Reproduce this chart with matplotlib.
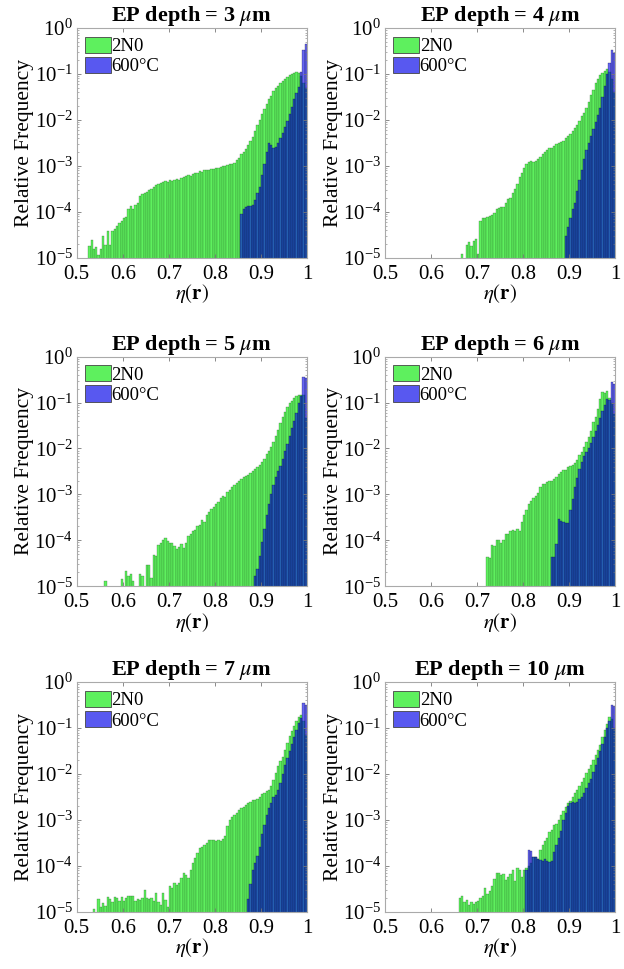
import numpy as np
import matplotlib
matplotlib.use("Agg")
import matplotlib.pyplot as plt
from matplotlib.patches import Patch
from matplotlib.ticker import LogLocator, NullFormatter

plt.rcParams['font.family'] = ['Liberation Serif', 'DejaVu Serif']
plt.rcParams['mathtext.fontset'] = 'stix'

# bin width of the histograms
bw = 0.005

depths = [3, 4, 5, 6, 7, 10]

# log10 of relative frequency, one value per bin, starting at the given eta
g3_start = 0.525
g3 = [-4.78, -4.64, -4.83, -4.8, -4.98, -4.85, -4.54, -4.75, -4.43, -4.75,
      -4.43, -4.38, -4.32, -4.25, -4.2, -4.15, -4.12, -3.95, -3.88, -3.95,
      -3.85, -3.8, -3.65, -3.62, -3.6, -3.56, -3.52, -3.5, -3.46, -3.42,
      -3.4, -3.38, -3.35, -3.32, -3.36, -3.3, -3.32, -3.3, -3.28, -3.3,
      -3.26, -3.25, -3.22, -3.2, -3.22, -3.18, -3.15, -3.16, -3.12, -3.13,
      -3.1, -3.1, -3.08, -3.06, -3.07, -3.05, -3.04, -3.03, -3.0, -3.0,
      -2.98, -2.97, -2.95, -2.93, -2.88, -2.82, -2.75, -2.7, -2.63, -2.55,
      -2.46, -2.38, -2.25, -2.12, -2.0, -1.88, -1.77, -1.66, -1.55, -1.47,
      -1.38, -1.3, -1.25, -1.2, -1.15, -1.1, -1.06, -1.03, -1.0, -0.97,
      -0.96, -0.98, -1.05, -1.2, -1.3]
b3_start = 0.855
b3 = [-4.05, -3.95, -3.9, -3.88, -3.87, -3.85, -3.75, -3.6, -3.45, -3.2,
      -2.95, -2.7, -2.5, -2.55, -2.6, -2.58, -2.5, -2.4, -2.28, -2.15,
      -2.02, -1.88, -1.72, -1.55, -1.42, -1.28, -0.96, -0.47, -0.35]

g4_start = 0.665
g4 = [-4.95, np.nan, -4.75, -4.68, -4.78, -4.65, -4.6, -4.95, -4.2, -4.15,
      -4.13, -4.12, -4.1, -4.08, -4.02, -3.95, -3.92, -3.9, -3.9, -3.82,
      -3.72, -3.7, -3.6, -3.5, -3.4, -3.25, -3.15, -3.05, -2.95, -2.92,
      -2.9, -2.92, -2.9, -2.85, -2.8, -2.75, -2.7, -2.65, -2.62, -2.6,
      -2.57, -2.53, -2.5, -2.48, -2.45, -2.4, -2.35, -2.3, -2.25, -2.18,
      -2.1, -2.02, -1.92, -1.85, -1.75, -1.6, -1.45, -1.35, -1.2, -1.1,
      -1.02, -0.97, -0.93, -0.9, -0.95, -1.1, -1.4]
b4_start = 0.89
b4 = [-4.55, -4.35, -4.15, -3.95, -3.8, -3.55, -3.3, -3.1, -2.85, -2.65,
      -2.5, -2.35, -2.2, -2.05, -1.9, -1.75, -1.5, -1.25, -1.0, -0.75,
      -0.48, -0.55]

g5_start = 0.56
g5 = [-4.93, np.nan, np.nan, np.nan, np.nan, np.nan, np.nan, -4.87, np.nan, -4.7,
      -4.8, -4.75, -4.93, np.nan, np.nan, -4.75, -4.8, np.nan, -4.55, -4.55,
      -4.85, -4.32, -4.35, -4.11, -4.07, -4.0, -3.96, -4.03, -4.07, -4.07,
      -4.14, -4.2, -4.16, -4.08, -4.18, -4.07, -3.92, -3.87, -3.79, -3.78,
      -3.69, -3.67, -3.56, -3.61, -3.45, -3.38, -3.33, -3.28, -3.2, -3.16,
      -3.09, -3.04, -3.05, -2.94, -2.91, -2.85, -2.8, -2.75, -2.7, -2.67,
      -2.63, -2.6, -2.57, -2.53, -2.5, -2.45, -2.4, -2.35, -2.3, -2.22,
      -2.12, -2.05, -1.97, -1.85, -1.72, -1.6, -1.45, -1.32, -1.2, -1.1,
      -1.02, -0.96, -0.9, -0.86, -0.84, -0.83, -0.84, -1.34]
b5_start = 0.885
b5 = [-4.8, -4.65, -4.35, -4.05, -3.75, -3.45, -3.22, -3.0, -2.8, -2.62,
      -2.5, -2.38, -2.22, -2.05, -1.9, -1.72, -1.55, -1.4, -1.22, -1.0,
      -0.85, -0.45, -0.47]

g6_start = 0.72
g6 = [-4.37, -4.4, -4.11, -4.14, -4.0, -4.0, -4.07, -4.0, -3.86, -3.87,
      -3.79, -3.77, -3.79, -3.75, -3.79, -3.6, -3.46, -3.35, -3.21, -3.15,
      -3.07, -3.03, -2.96, -2.85, -2.78, -2.78, -2.72, -2.71, -2.71, -2.67,
      -2.63, -2.56, -2.51, -2.48, -2.46, -2.41, -2.39, -2.35, -2.32, -2.25,
      -2.14, -2.07, -1.96, -1.86, -1.75, -1.61, -1.43, -1.32, -1.14, -0.92,
      -0.78, -0.8, -0.75, -0.9, -1.0, -1.25]
b6_start = 0.86
b6 = [-4.37, -4.38, -4.08, -3.54, -3.58, -3.6, -3.62, -3.63, -3.35, -3.1,
      -2.85, -2.65, -2.45, -2.3, -2.17, -2.08, -1.98, -1.88, -1.75, -1.62,
      -1.48, -1.33, -1.18, -1.05, -0.92, -0.95, -0.55, -0.6]

g7_start = 0.535
g7 = [-4.98, np.nan, -4.75, -4.93, -4.84, -4.9, -4.7, -4.75, -4.82, -4.69,
      -4.72, -4.78, -4.7, -4.78, -4.73, -4.67, -4.67, -4.67, -4.78, -4.75,
      -4.76, -4.73, -4.54, -4.73, -4.75, -4.73, -4.78, -4.61, -4.82, -4.89,
      -4.61, -4.76, -4.93, -4.45, -4.49, -4.38, -4.42, -4.38, -4.27, -4.16,
      -4.2, -4.27, -4.09, -3.94, -3.84, -3.73, -3.62, -3.58, -3.54, -3.51,
      -3.44, -3.44, -3.44, -3.45, -3.44, -3.45, -3.42, -3.36, -3.14, -3.0,
      -2.93, -2.89, -2.85, -2.78, -2.74, -2.71, -2.67, -2.62, -2.6, -2.56,
      -2.56, -2.55, -2.49, -2.43, -2.42, -2.38, -2.34, -2.27, -2.12, -1.98,
      -1.83, -1.72, -1.62, -1.47, -1.32, -1.18, -1.07, -0.95, -0.85, -0.76,
      -0.71, -0.85, -1.15]
b7_start = 0.87
b7 = [-4.75, -4.4, -4.1, -3.95, -3.78, -3.6, -3.3, -3.1, -2.9, -2.75,
      -2.62, -2.5, -2.45, -2.35, -2.2, -2.0, -1.8, -1.65, -1.5, -1.35,
      -1.2, -1.05, -0.88, -0.78, -0.45, -0.5]

g10_start = 0.66
g10 = [-4.71, -4.67, -4.82, -4.76, -4.89, -4.82, -4.87, -4.82, -4.78, -4.71,
       -4.67, -4.49, -4.64, -4.56, -4.45, -4.29, -4.16, -4.16, -4.2, -4.18,
       -4.31, -4.24, -4.18, -4.09, -4.34, -4.05, -4.09, -4.24, -4.1, -4.05,
       -4.0, -3.95, -3.8, -3.8, -3.85, -3.65, -3.55, -3.45, -3.4, -3.26,
       -3.22, -3.12, -3.08, -3.0, -2.9, -2.8, -2.72, -2.64, -2.58, -2.5,
       -2.42, -2.34, -2.25, -2.18, -2.08, -1.98, -1.9, -1.8, -1.69, -1.58,
       -1.47, -1.36, -1.2, -1.05, -0.9, -0.75, -0.8, -1.0]
b10_start = 0.805
b10 = [-4.1, -3.65, -3.68, -3.8, -3.8, -3.85, -3.88, -3.9, -3.85, -3.9,
       -3.92, -3.9, -3.7, -3.55, -3.4, -3.25, -3.0, -2.85, -2.7, -2.62,
       -2.6, -2.62, -2.6, -2.55, -2.5, -2.42, -2.3, -2.2, -2.1, -1.95,
       -1.8, -1.65, -1.5, -1.35, -1.2, -1.0, -0.85, -0.49, -0.52]

green = [(g3_start, g3), (g4_start, g4), (g5_start, g5),
         (g6_start, g6), (g7_start, g7), (g10_start, g10)]
blue = [(b3_start, b3), (b4_start, b4), (b5_start, b5),
        (b6_start, b6), (b7_start, b7), (b10_start, b10)]

xticks = [0.5, 0.6, 0.7, 0.8, 0.9, 1.0]
xticklabels = ['0.5', '0.6', '0.7', '0.8', '0.9', '1']

col_green = (94/255, 240/255, 94/255)
col_blue = (0, 0, 230/255)

fig = plt.figure(figsize=(6.24, 9.69), dpi=100)

lefts = [0.123, 0.617]
bottoms = [0.734, 0.395, 0.059]
w, h = 0.369, 0.237

for k in range(6):
    r, c = k // 2, k % 2
    ax = fig.add_axes([lefts[c], bottoms[r], w, h])
    ax.set_yscale('log')

    gs, gv = green[k]
    gx = gs + bw * np.arange(len(gv))
    ax.bar(gx, 10 ** np.array(gv), width=bw, align='edge', bottom=1e-6,
           color=col_green, edgecolor=(0.1, 0.3, 0.1, 0.6), linewidth=0.3,
           label='2N0')
    bs, bv = blue[k]
    bx = bs + bw * np.arange(len(bv))
    ax.bar(bx, 10 ** np.array(bv), width=bw, align='edge', bottom=1e-6,
           color=col_blue, alpha=0.6, edgecolor=(0, 0, 0.2), linewidth=0.3,
           label='600°C')

    ax.set_xlim(0.5, 1.0)
    ax.set_ylim(1e-5, 1)
    ax.set_xticks(xticks)
    ax.set_xticklabels(xticklabels)
    ax.yaxis.set_major_locator(LogLocator(base=10, numticks=10))
    ax.yaxis.set_minor_locator(LogLocator(base=10, subs=np.arange(2, 10), numticks=10))
    ax.yaxis.set_minor_formatter(NullFormatter())
    ax.tick_params(which='both', direction='in', top=True, right=True,
                   labelsize=15, color='#777777')
    ax.tick_params(which='major', length=3, width=0.6)
    ax.tick_params(axis='x', which='major', pad=5)
    ax.tick_params(axis='y', which='major', pad=3)
    ax.tick_params(which='minor', length=1.6, width=0.4)
    for s in ax.spines.values():
        s.set_color('#aaaaaa')
        s.set_linewidth(0.8)

    ax.set_title('EP depth = %d $\\mu$m' % depths[k], fontsize=16,
                 fontweight='bold', pad=3)
    ax.set_ylabel('Relative Frequency', fontsize=15.5, labelpad=0)
    ax.set_xlabel(r'$\eta(\mathbf{r})$', fontsize=15, labelpad=-1)

    handles = [Patch(facecolor=col_green, edgecolor='#444444', linewidth=0.6),
               Patch(facecolor=(88/255, 88/255, 240/255), edgecolor='#444444', linewidth=0.6)]
    ax.legend(handles, ['2N0', '600°C'], loc='upper left', frameon=False,
              fontsize=13.5, handlelength=1.35, handleheight=0.95,
              handletextpad=0.05, labelspacing=0.1, borderaxespad=0.25,
              borderpad=0.2)

fig.savefig('out.png', dpi=100)
